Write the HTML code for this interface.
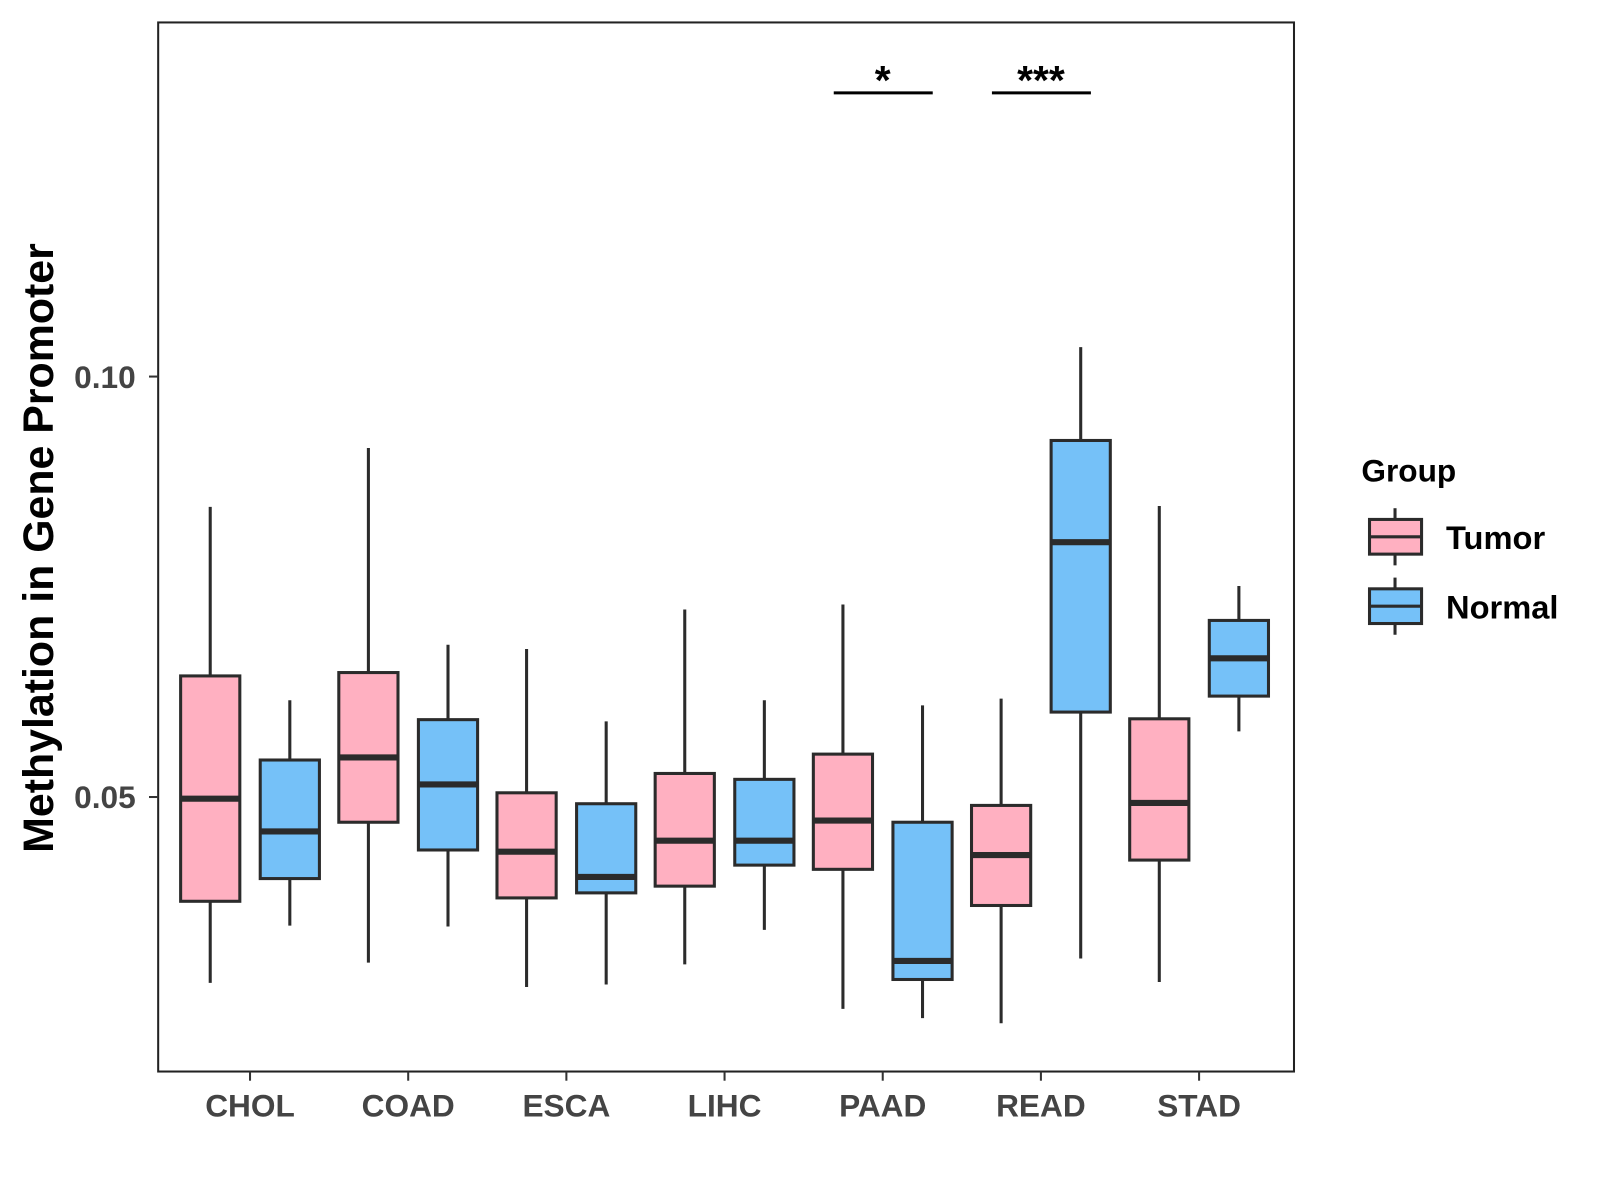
<!DOCTYPE html>
<html><head><meta charset="utf-8"><style>
html,body{margin:0;padding:0;background:#fff;}
svg{display:block;font-family:"Liberation Sans",Arial,sans-serif;}
</style></head><body>
<svg id="chart" width="1600" height="1200" viewBox="0 0 1600 1200">
<g transform="scale(1.0205)">
<rect x="155" y="22" width="1113" height="1028" fill="#fff" stroke="#222" stroke-width="2"/>
<g id="marks"></g>
<g id="axes"></g>
<text transform="translate(52,537) rotate(-90)" text-anchor="middle" font-size="42" font-weight="bold" fill="#000">Methylation in Gene Promoter</text>
<g>
<text x="1334" y="472" font-size="31" font-weight="bold" fill="#000">Group</text>
<g>
<line x1="1367" y1="498" x2="1367" y2="554" stroke="#2b2b2b" stroke-width="3"/>
<rect x="1342" y="509" width="51" height="34" fill="#FFB0C1" stroke="#2b2b2b" stroke-width="3"/>
<line x1="1342" y1="526" x2="1393" y2="526" stroke="#2b2b2b" stroke-width="3"/>
<text x="1417" y="538" font-size="32" font-weight="bold" fill="#000">Tumor</text></g>
<g>
<line x1="1367" y1="566" x2="1367" y2="622" stroke="#2b2b2b" stroke-width="3"/>
<rect x="1342" y="577" width="51" height="34" fill="#75C1F8" stroke="#2b2b2b" stroke-width="3"/>
<line x1="1342" y1="594" x2="1393" y2="594" stroke="#2b2b2b" stroke-width="3"/>
<text x="1417" y="606" font-size="32" font-weight="bold" fill="#000">Normal</text></g>
</g>
<g>
<line x1="817" y1="91" x2="914" y2="91" stroke="#000" stroke-width="3"/>
<text x="865" y="92" text-anchor="middle" font-size="40" font-weight="bold">*</text></g>
<g>
<line x1="972" y1="91" x2="1069" y2="91" stroke="#000" stroke-width="3"/>
<text x="1020" y="92" text-anchor="middle" font-size="40" font-weight="bold">***</text></g>
</g>
</svg>
<script>
const categories=["CHOL","COAD","ESCA","LIHC","PAAD","READ","STAD"];
// [whiskerLow, q1, median, q3, whiskerHigh]
const tumorStats=[
[0.0279,0.0376,0.0498,0.0644,0.0845],
[0.0303,0.0470,0.0547,0.0648,0.0915],
[0.0274,0.0380,0.0435,0.0505,0.0676],
[0.0301,0.0394,0.0448,0.0528,0.0723],
[0.0248,0.0414,0.0472,0.0551,0.0729],
[0.0231,0.0371,0.0431,0.0490,0.0617],
[0.0280,0.0425,0.0493,0.0593,0.0846]];
const normalStats=[
[0.0347,0.0403,0.0459,0.0544,0.0615],
[0.0346,0.0437,0.0515,0.0592,0.0681],
[0.0277,0.0386,0.0405,0.0492,0.0590],
[0.0342,0.0419,0.0448,0.0521,0.0615],
[0.0237,0.0283,0.0305,0.0470,0.0609],
[0.0308,0.0601,0.0803,0.0924,0.1035],
[0.0578,0.0620,0.0665,0.0710,0.0751]];
const yTicks=[0.05,0.10];
const yTickLabels=["0.05","0.10"];

const NS="http://www.w3.org/2000/svg";
function y(v){return 369+(0.10-v)*8240;}
function x(i){return 245+i*155;}
const marks=document.getElementById('marks'),axes=document.getElementById('axes');
function mk(tag,attrs,parent){const e=document.createElementNS(NS,tag);for(const k in attrs)e.setAttribute(k,attrs[k]);parent.appendChild(e);return e;}
function drawBox(s,cx,fill,name){
  const g=mk('g',{},marks);
  
  
  const w=58;
  mk('line',{x1:cx,x2:cx,y1:y(s[4]),y2:y(s[0]),stroke:'#2b2b2b','stroke-width':3},g);
  mk('rect',{x:cx-w/2,y:y(s[3]),width:w,height:y(s[1])-y(s[3]),fill:fill,stroke:'#2b2b2b','stroke-width':3},g);
  mk('line',{x1:cx-w/2,x2:cx+w/2,y1:y(s[2]),y2:y(s[2]),stroke:'#2b2b2b','stroke-width':6},g);
}
categories.forEach((c,i)=>{
  drawBox(tumorStats[i],x(i)-39,'#FFB0C1','box-tumor-'+c.toLowerCase());
  drawBox(normalStats[i],x(i)+39,'#75C1F8','box-normal-'+c.toLowerCase());
  mk('line',{x1:x(i),x2:x(i),y1:1050,y2:1059,stroke:'#333','stroke-width':2},axes);
  const t=mk('text',{x:x(i),y:1094,'text-anchor':'middle','font-size':31,'font-weight':'bold',fill:'#444'},axes);
  t.textContent=c;
  
  
});
yTicks.forEach((v,i)=>{
  mk('line',{x1:146,x2:155,y1:y(v),y2:y(v),stroke:'#333','stroke-width':2},axes);
  const t=mk('text',{x:133,y:y(v)+11,'text-anchor':'end','font-size':31,'font-weight':'bold',fill:'#444'},axes);
  t.textContent=yTickLabels[i];
  
  
});
</script>
</body></html>
